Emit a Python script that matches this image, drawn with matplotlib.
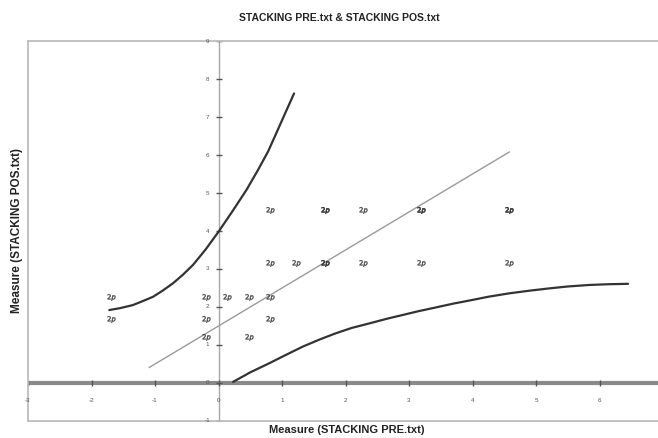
import matplotlib
matplotlib.use("Agg")
import matplotlib.pyplot as plt
import numpy as np

plt.rcParams['font.family'] = ['Liberation Sans', 'DejaVu Sans']

# item measures: PRE on x, POS on y (duplicates = overlapping items)
pre_measure = [-1.69, -1.69, -0.20, 0.14, 0.48, 0.81, -0.20, 0.81, -0.20, 0.48,
               0.81, 0.81, 1.68, 1.68, 2.28, 3.19, 3.19, 4.58, 4.58,
               1.22, 1.68, 1.68, 2.28, 3.19, 4.58]
pos_measure = [2.26, 1.68, 2.26, 2.26, 2.26, 2.26, 1.68, 1.68, 1.22, 1.22,
               4.54, 3.17, 4.54, 4.54, 4.54, 4.54, 4.54, 4.54, 4.54,
               3.17, 3.17, 3.17, 3.17, 3.17, 3.17]

# trend (identity) line end points
trend_x = [-1.09, 4.58]
trend_y = [0.41, 6.08]

# 95% confidence band curves
upper_x = [-1.72, -1.55, -1.35, -1.20, -1.03, -0.88, -0.72, -0.56, -0.40, -0.20,
           0.00, 0.22, 0.44, 0.62, 0.78, 0.92, 1.05, 1.19]
upper_y = [1.92, 1.97, 2.05, 2.15, 2.27, 2.43, 2.62, 2.85, 3.11, 3.52,
           3.98, 4.52, 5.08, 5.60, 6.09, 6.61, 7.10, 7.62]
lower_x = [0.23, 0.50, 0.80, 1.05, 1.33, 1.60, 1.85, 2.10, 2.38, 2.65, 2.90, 3.15,
           3.40, 3.70, 3.95, 4.25, 4.58, 4.90, 5.21, 5.50, 5.84, 6.15, 6.45]
lower_y = [0.03, 0.28, 0.52, 0.73, 0.96, 1.15, 1.31, 1.45, 1.57, 1.69, 1.79, 1.89,
           1.98, 2.09, 2.17, 2.27, 2.36, 2.43, 2.49, 2.54, 2.58, 2.60, 2.61]

x_ticks = [-3, -2, -1, 0, 1, 2, 3, 4, 5, 6]
y_ticks = [-1, 0, 1, 2, 3, 4, 5, 6, 7, 8, 9]

fig = plt.figure(figsize=(6.58, 4.38), dpi=100)
ax = fig.add_axes([28/658, 17/438, 635/658, 380/438])
ax.set_xlim(-3, 7)
ax.set_ylim(-1, 9)
ax.set_xticks([])
ax.set_yticks([])
for side in ['left', 'top', 'bottom']:
    ax.spines[side].set_color('#bdbdbd')
    ax.spines[side].set_linewidth(1.3)
ax.spines['right'].set_visible(False)

# zero axes
ax.axhline(0, color='#8a8a8a', lw=3, zorder=1)
ax.axvline(0, color='#a8a8a8', lw=1, zorder=1)

# tick marks and labels along the zero axes
ax.plot(x_ticks, [0]*len(x_ticks), ls='none', marker='|', ms=4, color='#555', zorder=2)
ax.plot([0]*len(y_ticks), y_ticks, ls='none', marker='_', ms=4, color='#555', zorder=2)
for t in x_ticks:
    ax.text(t, -0.45, str(t), fontsize=4.5, color='#555', ha='center', va='center')
for t in y_ticks:
    ax.text(-0.17, t, str(t), fontsize=4.5, color='#555', ha='center', va='center')

# bands and trend line
ax.plot(upper_x, upper_y, color='#333333', lw=1.6, zorder=3, solid_capstyle='round')
ax.plot(lower_x, lower_y, color='#333333', lw=1.6, zorder=3, solid_capstyle='round')
ax.plot(trend_x, trend_y, color='#9a9a9a', lw=1.0, zorder=3)

# item points
ax.scatter(pre_measure, pos_measure, marker='$2p$', s=32, color='#333', alpha=0.7,
           linewidths=0.4, zorder=4)

fig.text(0.515, 0.958, 'STACKING PRE.txt & STACKING POS.txt', ha='center', va='center',
         fontsize=7.5, fontweight='bold', color='#222')
fig.text(0.527, 0.018, 'Measure (STACKING PRE.txt)', ha='center', va='center',
         fontsize=8, fontweight='bold', color='#222')
fig.text(0.026, 0.473, 'Measure (STACKING POS.txt)', ha='center', va='center',
         rotation=90, fontsize=8.5, fontweight='bold', color='#222')

fig.savefig('out.png', dpi=100)
